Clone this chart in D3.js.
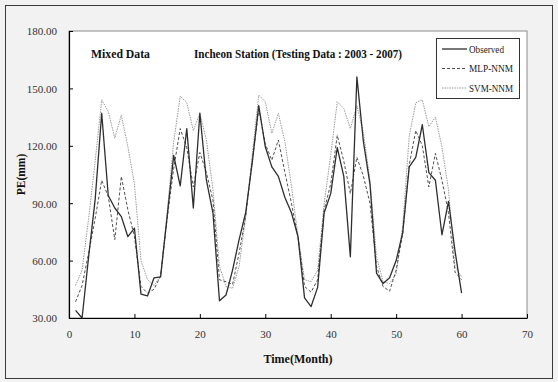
<!DOCTYPE html>
<html>
<head>
<meta charset="utf-8">
<script src="https://cdn.jsdelivr.net/npm/d3@7"></script>
<style>
  html, body { margin: 0; padding: 0; background: #f2f2f2; }
  svg, svg text { font-family: "Liberation Serif", "Times New Roman", serif; }
  svg { display: block; }
</style>
</head>
<body>
<svg id="chart" width="558" height="382"></svg>
<script>
// Monthly precipitation evaporation (mm), Incheon station, 2003-2007
const months = d3.range(1, 61);
const observed = [34, 30, 62, 92, 137, 94, 87.5, 83, 72.5, 77,
  42.5, 41.5, 51, 51.5, 83, 115, 99, 129, 87.5, 137,
  102, 85, 39, 42, 55, 71, 85, 111, 141, 119.5,
  109, 104, 93, 85, 72.5, 40.5, 36, 46, 85, 95,
  119, 104, 62, 156, 122, 100, 53.5, 48, 51, 60,
  74.5, 109, 114, 131, 106, 102, 73.5, 91, 65, 43];
const mlpNNM = [38.5, 47, 64, 82, 102, 93.5, 71, 104, 86.5, 72.5,
  46.5, 43, 45, 52, 82, 108, 129, 119, 98.5, 116.5,
  106, 91.5, 50, 49, 47.5, 64, 83, 112, 139, 121,
  112.5, 123, 106, 90, 72, 46.5, 43.5, 50, 86.5, 100,
  125.5, 112, 95, 114, 104, 90, 57, 46.5, 44, 55,
  74, 110, 128, 120, 98.5, 116, 102, 85, 54, 50];
const svmNNM = [47, 55, 82, 112, 144, 138, 124, 136, 119.5, 100,
  60, 50, 47, 52, 85, 122, 146, 142.5, 128, 137,
  123, 97, 57, 46.5, 45.5, 57, 83, 115, 146.5, 143,
  126.5, 137, 122, 99, 73, 50, 49, 55, 90, 115,
  143, 139.5, 129, 141, 127, 102, 62, 49, 48, 53,
  78, 125, 142.5, 144, 130, 135, 119.5, 97, 57, 51.5];
const xTicks = [0, 10, 20, 30, 40, 50, 60, 70];
const yTicks = [30, 60, 90, 120, 150, 180];
const seriesNames = ["Observed", "MLP-NNM", "SVM-NNM"];

const svg = d3.select("#chart");
const W = 558, H = 382;
const plot = { left: 69, top: 31, right: 527, bottom: 318 };
const serif = "'Liberation Serif', 'Times New Roman', serif";

// outer frame
svg.append("rect").attr("x", 5.5).attr("y", 5.5).attr("width", W - 11).attr("height", H - 9)
  .attr("fill", "#f2f2f2").attr("stroke", "#3a3a3a").attr("stroke-width", 1);

const x = d3.scaleLinear().domain([0, 70]).range([plot.left, plot.right]);
const y = d3.scaleLinear().domain([30, 180]).range([plot.bottom, plot.top]);

// plot area
svg.append("rect").attr("x", plot.left).attr("y", plot.top)
  .attr("width", plot.right - plot.left).attr("height", plot.bottom - plot.top)
  .attr("fill", "#ffffff").attr("stroke", "#8c8c8c").attr("stroke-width", 1);

// axes with inward ticks
const xAxis = d3.axisBottom(x).tickValues(xTicks).tickSizeInner(-4).tickSizeOuter(0)
  .tickPadding(12).tickFormat(d3.format("d"));
const gx = svg.append("g").attr("transform", `translate(0,${plot.bottom})`).call(xAxis);
const yAxis = d3.axisLeft(y).tickValues(yTicks).tickSizeInner(-4).tickSizeOuter(0)
  .tickPadding(12).tickFormat(d3.format(".2f"));
const gy = svg.append("g").attr("transform", `translate(${plot.left},0)`).call(yAxis);
[gx, gy].forEach(g => {
  g.attr("font-family", null).style("font-family", serif);
  g.select(".domain").attr("stroke", "#000").attr("stroke-width", 1.2);
  g.selectAll(".tick line").attr("stroke", "#000");
  g.selectAll(".tick text").style("font-family", serif).attr("font-size", 11).attr("fill", "#333");
});
gy.selectAll(".tick text").attr("dy", "0.35em");

// axis titles
svg.append("text").attr("x", (plot.left + plot.right) / 2).attr("y", 363)
  .attr("text-anchor", "middle").attr("font-weight", "bold").attr("font-size", 12)
  .attr("fill", "#111").text("Time(Month)");
svg.append("text").attr("transform", `translate(25,${(plot.top + plot.bottom) / 2}) rotate(-90)`)
  .attr("text-anchor", "middle").attr("font-weight", "bold").attr("font-size", 11.5)
  .attr("fill", "#111").text("PE(mm)");

// chart titles
svg.append("text").attr("x", 91).attr("y", 58).attr("font-weight", "bold").attr("font-size", 13)
  .attr("textLength", 59).attr("lengthAdjust", "spacingAndGlyphs").attr("fill", "#111").text("Mixed Data");
svg.append("text").attr("x", 194).attr("y", 58).attr("font-weight", "bold").attr("font-size", 13)
  .attr("textLength", 208).attr("lengthAdjust", "spacingAndGlyphs").attr("fill", "#111")
  .text("Incheon Station (Testing Data : 2003 - 2007)");

// series
const styles = [
  { data: observed, stroke: "#2e2e2e", width: 1.3, dash: null },
  { data: mlpNNM, stroke: "#3c3c3c", width: 0.9, dash: "3,2" },
  { data: svmNNM, stroke: "#9a9a9a", width: 1, dash: "1.5,1" }
];
const line = d3.line().x((d, i) => x(months[i])).y(d => y(d));
styles.slice().reverse().forEach(s => {
  svg.append("path").datum(s.data).attr("d", line).attr("fill", "none")
    .attr("stroke", s.stroke).attr("stroke-width", s.width)
    .attr("stroke-dasharray", s.dash).attr("stroke-linejoin", "round");
});

// legend
const lg = svg.append("g").attr("transform", "translate(436,38)");
lg.append("rect").attr("x", 0.5).attr("y", 0.5).attr("width", 83).attr("height", 60)
  .attr("fill", "#ffffff").attr("stroke", "#333").attr("stroke-width", 1);
seriesNames.forEach((name, i) => {
  const yy = 11 + i * 19.5;
  lg.append("line").attr("x1", 6).attr("x2", 31).attr("y1", yy).attr("y2", yy)
    .attr("stroke", styles[i].stroke).attr("stroke-width", styles[i].width)
    .attr("stroke-dasharray", styles[i].dash);
  lg.append("text").attr("x", 33).attr("y", yy + 3.5).attr("font-size", 10.5)
    .attr("textLength", i === 0 ? 35 : 44).attr("lengthAdjust", "spacingAndGlyphs")
    .attr("fill", "#222").text(name);
});
</script>
</body>
</html>
